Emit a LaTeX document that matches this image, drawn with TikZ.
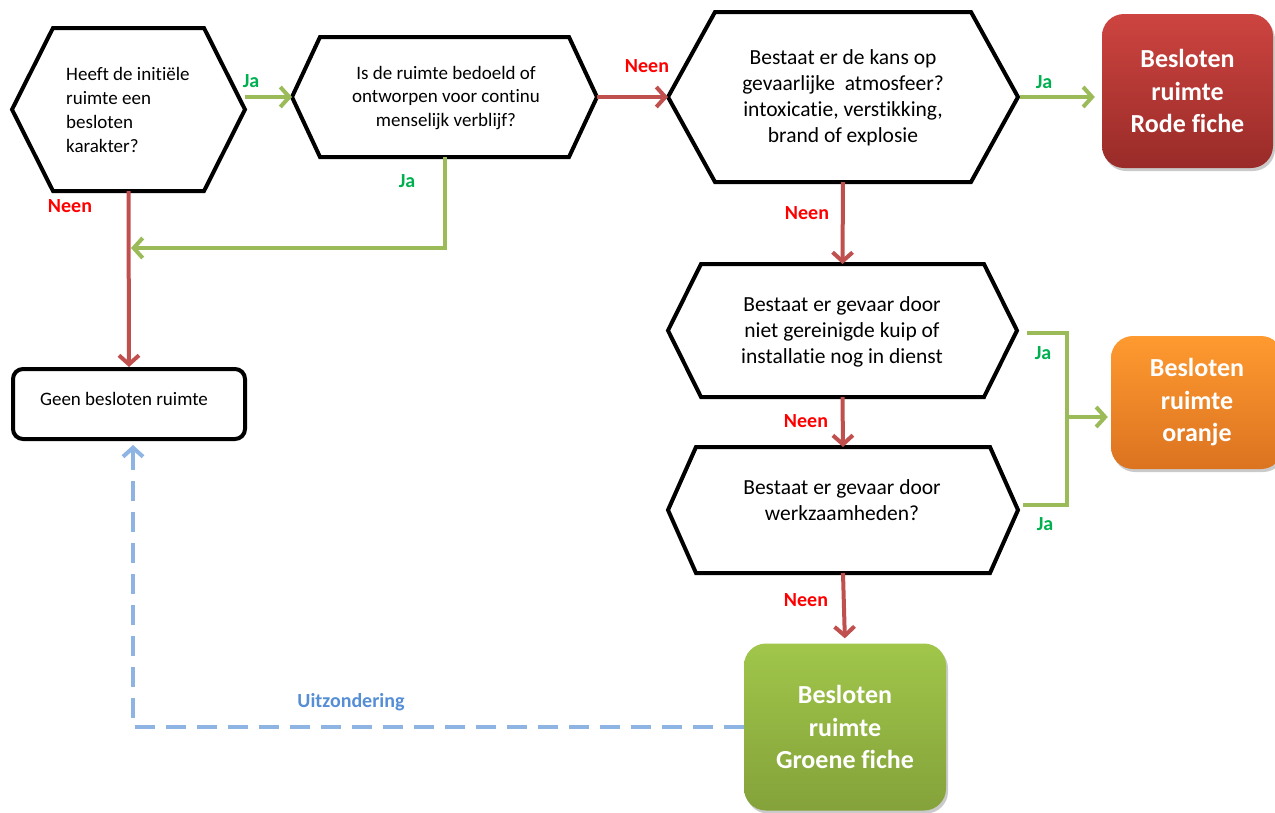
\documentclass[tikz,border=0pt]{standalone}
\usepackage{fontspec}
\setmainfont{Carlito}[RawFeature={-liga;-clig;-calt;-dlig}]
\usetikzlibrary{arrows.meta,calc,shadows}
\definecolor{lnred}{HTML}{C0504D}
\definecolor{lngreen}{HTML}{9BBB59}
\definecolor{lnblue}{HTML}{8DB4E2}
\definecolor{txred}{HTML}{FF0000}
\definecolor{txgreen}{HTML}{00B050}
\definecolor{txblue}{HTML}{558ED5}
\definecolor{rodetop}{HTML}{CD4440}
\definecolor{rodebot}{HTML}{992B28}
\definecolor{orantop}{HTML}{FF9A30}
\definecolor{oranbot}{HTML}{DB7320}
\definecolor{groentop}{HTML}{A0C64A}
\definecolor{groenbot}{HTML}{84A23A}
\newcommand\drawhexa[2]{%
  \draw[hexline] ($(#1.north west)+(#2,0)$) -- ($(#1.north east)+(-#2,0)$) -- (#1.east)
    -- ($(#1.south east)+(-#2,0)$) -- ($(#1.south west)+(#2,0)$) -- (#1.west) -- cycle;}
\tikzset{
  geo/.style={draw=none, inner sep=0pt, outer sep=0pt},
  hexline/.style={draw=black, line width=4pt, line join=miter},
  qtext/.style={inner sep=0pt, align=center, font=\fontsize{21.5}{26}\selectfont},
  qtextsmall/.style={inner sep=0pt, font=\fontsize{19}{23.7}\selectfont},
  bigbox/.style={rounded corners=22pt, inner sep=0pt, align=center, text=white,
    font=\fontsize{26}{32.5}\selectfont\bfseries,
    drop shadow={shadow xshift=2pt, shadow yshift=-3pt, opacity=0.35, fill=black!60}},
  endbox/.style={draw=black, line width=4pt, rounded corners=10pt, inner sep=0pt,
    font=\fontsize{19}{23.7}\selectfont},
  barb/.style={-{Straight Barb[length=9pt,width=20pt]}},
  rline/.style={draw=lnred, line width=4pt, barb},
  gline/.style={draw=lngreen, line width=4pt, barb},
  gplain/.style={draw=lngreen, line width=4pt},
  bline/.style={draw=lnblue, line width=4pt, dash pattern=on 20pt off 11pt, barb},
  jalab/.style={text=txgreen, font=\fontsize{20}{24}\selectfont\bfseries, inner sep=0pt},
  neenlab/.style={text=txred, font=\fontsize{20}{24}\selectfont\bfseries, inner sep=0pt},
  uitlab/.style={text=txblue, font=\fontsize{20}{24}\selectfont\bfseries, inner sep=0pt},
}
\begin{document}
\begin{tikzpicture}[x=1pt, y=-1pt]
\useasboundingbox (0,0) rectangle (1275,812);

% hexagon geometry
\node[geo, minimum width=233pt, minimum height=163pt] (h1) at (128.5,109.5) {};
\node[geo, minimum width=305pt, minimum height=120pt] (h2) at (444.5,97) {};
\node[geo, minimum width=350pt, minimum height=170pt] (h3) at (843,97) {};
\node[geo, minimum width=349pt, minimum height=133pt] (h4) at (842.5,330.5) {};
\node[geo, minimum width=350pt, minimum height=126pt] (h5) at (843,510) {};
\drawhexa{h1}{41}
\drawhexa{h2}{28}
\drawhexa{h3}{47}
\drawhexa{h4}{33}
\drawhexa{h5}{28}

% hexagon texts
\node[qtextsmall, align=left, anchor=west] (h1t) at (66,110) {Heeft de initiële\\ruimte een\\besloten\\karakter?};
\node[qtextsmall, align=center] (h2t) at (446,98) {Is de ruimte bedoeld of\\ontworpen voor continu\\menselijk verblijf?};
\node[qtext] (h3t) at (843,97.5) {Bestaat er de kans op\\gevaarlijke~ atmosfeer?\\intoxicatie, verstikking,\\brand of explosie};
\node[qtext] (h4t) at (842,331.5) {Bestaat er gevaar door\\niet gereinigde kuip of\\installatie nog in dienst};
\node[qtext] (h5t) at (842,500) {Bestaat er gevaar door\\werkzaamheden?};

% end boxes
\node[endbox, minimum width=232pt, minimum height=70pt] (geen) at (129,404) {};
\node[inner sep=0pt, font=\fontsize{19}{23.7}\selectfont] (geent) at (124,399) {Geen besloten ruimte};
\node[bigbox, top color=rodetop, bottom color=rodebot, minimum width=171pt, minimum height=154pt] (rode) at (1187.5,91) {Besloten\\ruimte\\Rode fiche};
\node[bigbox, top color=orantop, bottom color=oranbot, minimum width=172pt, minimum height=133pt] (oranje) at (1197,402.5) {Besloten\\ruimte\\oranje};
\node[bigbox, top color=groentop, bottom color=groenbot, minimum width=202pt, minimum height=167pt] (groen) at (845,727) {Besloten\\ruimte\\Groene fiche};

% helper coordinates
\coordinate (m1) at (131,248);
\coordinate (j) at (1067,417);
\coordinate (uitend) at (133,439);

% connectors
\draw[gline] (h1.east |- h2.west) -- (h2.west);
\draw[gline] (h2.south) |- (m1);
\draw[rline] (h1.south) -- (geen.north);
\draw[rline] (h2.east) -- (h3.west);
\draw[gline, shorten >=7pt, shorten <=2pt] (h3.east) -- (h3.east -| rode.west);
\draw[rline] (h3.south) -- (h4.north);
\draw[rline] (h4.south) -- (h5.north);
\draw[rline, shorten >=5pt] (h5.south) -- (groen.north);
\draw[gplain] ($(h4.east)+(10,2)$) -| (j) |- ($(h5.east)+(5,-5)$);
\draw[gline, shorten >=3pt] (j) -- (j -| oranje.west);
\draw[bline, shorten >=6pt] (groen.west) -| (uitend);

% labels
\node[jalab] (l1) at (251,81) {Ja};
\node[jalab] (l2) at (407,181) {Ja};
\node[neenlab] (l3) at (70,206) {Neen};
\node[neenlab] (l4) at (647,66) {Neen};
\node[jalab] (l5) at (1044,82) {Ja};
\node[neenlab] (l6) at (807,213) {Neen};
\node[jalab] (l7) at (1043,353) {Ja};
\node[neenlab] (l8) at (806,421) {Neen};
\node[jalab] (l9) at (1045,524) {Ja};
\node[neenlab] (l10) at (806,600) {Neen};
\node[uitlab] (l11) at (351,702) {Uitzondering};
\end{tikzpicture}
\end{document}
